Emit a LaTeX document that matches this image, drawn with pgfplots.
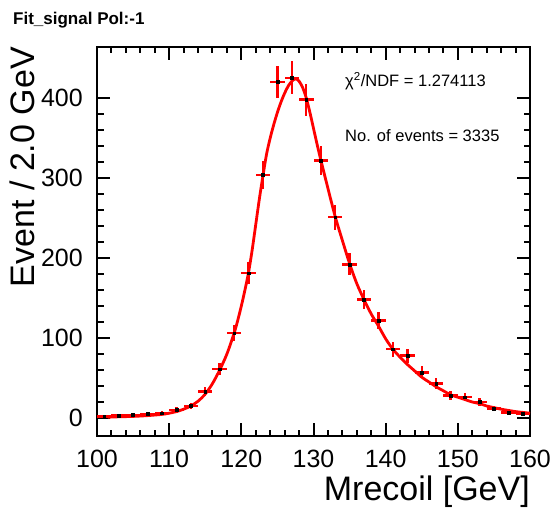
\documentclass[border=0pt]{standalone}
\usepackage{fontspec}
\setmainfont{Liberation Sans}
\usepackage{pgfplots}
\pgfplotsset{compat=1.18}
\begin{document}
\begin{tikzpicture}[x=1pt,y=1pt]
\path[use as bounding box] (0,0) rectangle (556,509);
\begin{axis}[at={(97pt,73pt)}, anchor=south west, scale only axis,
  width=433pt, height=389pt,
  xmin=100, xmax=160, ymin=-22.5, ymax=463.75,
  xtick={100,110,...,160}, ytick={0,100,...,400},
  minor x tick num=4, minor y tick num=4,
  tick align=inside, major tick length=13pt, minor tick length=6.5pt,
  tick style={black, line width=2pt},
  axis line style={line width=2.5pt},
  /pgf/number format/assume math mode=true,
  ticklabel style={font=\fontsize{25}{30}\selectfont},
  xticklabel style={anchor=base, yshift=-31pt, inner sep=0pt},
  yticklabel style={anchor=east, xshift=-14pt, inner sep=0pt},
  clip=true]
\addplot[red, line width=2.8pt, smooth] coordinates {
(101.5,1) (103,1.5) (105,2) (107,3) (109,4.5) (110,6) (111,8) (112,11) (113,15)
(114,21) (115,30) (116,43) (117,60) (118,80) (119,106) (119.5,122) (120,140)
(120.5,160) (121,182) (121.5,210) (122,242) (122.5,274) (123,303) (123.5,330)
(124,350) (124.5,367) (125,382) (125.5,395) (126,406) (126.5,415) (127,421)
(127.5,424) (128,421) (128.5,413) (129,400) (129.5,382) (130,362) (130.5,342)
(131,323) (132,287) (133,252) (134,222) (135,193) (136,168) (137,148) (138,130)
(139,115) (140,99) (141,86) (142,76) (143,67) (144,59) (145,51) (146,45)
(147,39) (148,34) (149,29) (150,26) (151,23) (152,20) (153,18) (154,15)
(155,13) (156,11) (157,9.5) (158,8) (159,7) (160,6)};
\addplot[only marks, mark=square*, mark size=1.4pt, black,
  error bars/.cd, x dir=both, x explicit, y dir=both, y explicit,
  error bar style={red, line width=2.4pt}, error mark=none]
  table[x=x, y=y, x error=ex, y error=ey] {
x y ex ey
101 2 1 1.41
103 3 1 1.73
105 4 1 2
107 5 1 2.24
109 6 1 2.45
111 10 1 3.16
113 15 1 3.87
115 33 1 5.74
117 61 1 7.81
119 106 1 10.3
121 181 1 13.45
123 304 1 17.44
125 420 1 20.49
127 425 1 20.62
129 398 1 19.95
131 322 1 17.94
133 251 1 15.84
135 192 1 13.86
137 148 1 12.17
139 122 1 11.05
141 86 1 9.27
143 78 1 8.83
145 57 1 7.55
147 43 1 6.56
149 28 1 5.29
151 26 1 5.1
153 20 1 4.47
155 12 1 3.46
157 7 1 2.65
159 5 1 2.24
};
\end{axis}
\node[anchor=base west, font=\bfseries\fontsize{17}{20}\selectfont, inner sep=0pt] at (13,484) {Fit\_signal Pol:-1};
\node[anchor=base west, font=\fontsize{16.5}{20}\selectfont, inner sep=0pt] at (345,422.3) {χ\textsuperscript{2}/NDF = 1.274113};
\node[anchor=base west, font=\fontsize{16.5}{20}\selectfont, inner sep=0pt] at (345,367.3) {No. of events = 3335};
\node[rotate=90, anchor=base east, font=\fontsize{34}{40}\selectfont, inner sep=0pt] at (34,462) {Event / 2.0 GeV};
\node[anchor=base east, font=\fontsize{34}{40}\selectfont, inner sep=0pt] at (530,9) {Mrecoil [GeV]};
\end{tikzpicture}
\end{document}
